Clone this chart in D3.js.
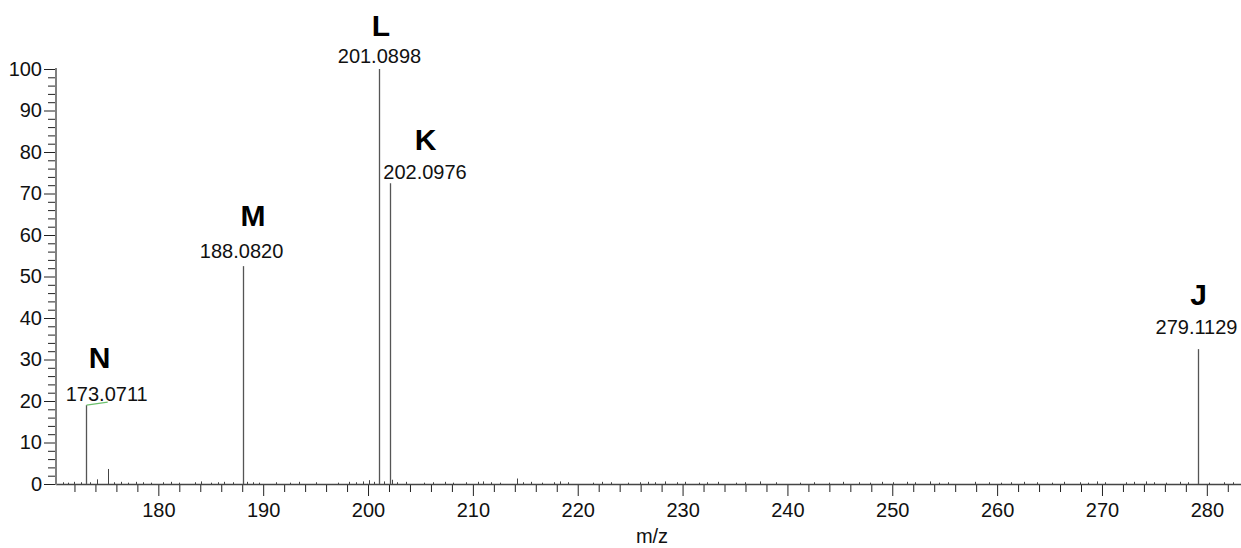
<!DOCTYPE html>
<html>
<head>
<meta charset="utf-8">
<script src="https://cdn.jsdelivr.net/npm/d3@7"></script>
<style>
  html, body { margin: 0; padding: 0; background: #fff; }
  svg { display: block; font-family: "Liberation Sans", Arial, sans-serif; }
</style>
</head>
<body>
<svg id="chart" width="1241" height="548"></svg>
<script>
// Labelled fragment peaks (m/z, relative intensity %)
const peakNames = ["N", "M", "L", "K", "J"];
const peakMz = [173.0711, 188.0820, 201.0898, 202.0976, 279.1129];
const peakIntensity = [19.0, 52.5, 100.0, 72.5, 32.5];

// Minor unlabelled signals and baseline noise
const minorMz = [
  170.9, 171.4, 172.0, 172.6, 173.5, 174.15, 175.2, 175.8, 176.4, 177.1, 177.9, 178.5, 179.3,
  180.4, 181.2, 182.0, 183.5, 184.1, 185.0, 185.7, 186.3, 187.1, 188.5, 189.0, 189.6,
  191.2, 192.6, 193.4, 195.0, 197.1, 198.2, 198.9, 199.5, 200.1, 200.6, 201.5, 202.3,
  202.8, 203.6, 205.3, 206.2, 207.3, 208.1, 209.3, 210.5, 211.0, 211.7, 212.6, 214.2,
  214.8, 215.5, 216.6, 217.7, 218.3, 219.1, 221.5, 222.3, 223.2, 224.8, 225.9, 226.7,
  227.4, 228.3, 229.5, 230.2, 231.6, 232.3, 233.4, 235.1, 236.0, 237.4, 238.9, 241.2,
  242.5, 244.0, 245.3, 246.8, 247.9, 249.0, 250.1, 251.4, 252.2, 253.6, 254.5, 255.3,
  257.9, 259.2, 260.4, 261.3, 262.6, 263.8, 265.2, 266.4, 267.9, 268.7, 269.5, 270.3,
  272.3, 273.1, 274.2, 275.0, 276.1, 277.4, 278.2, 280.2, 281.6, 282.5
];
const minorIntensity = [
  0.3, 0.2, 0.4, 0.3, 0.3, 1.0, 3.5, 0.3, 0.4, 0.2, 0.4, 0.3, 0.2,
  0.3, 0.4, 0.2, 0.3, 0.5, 0.2, 0.3, 0.4, 0.3, 0.4, 0.3, 0.2,
  0.3, 0.2, 0.4, 0.3, 0.2, 0.4, 0.3, 0.5, 0.8, 0.4, 0.5, 0.9,
  0.3, 0.4, 0.2, 0.3, 0.4, 0.2, 0.3, 0.4, 0.5, 0.3, 0.2, 1.2,
  0.3, 0.4, 0.2, 0.3, 0.5, 0.3, 0.2, 0.4, 0.3, 0.2, 0.3, 0.4,
  0.3, 0.5, 0.3, 0.4, 0.2, 0.3, 0.4, 0.2, 0.3, 0.5, 0.3, 0.2,
  0.3, 0.2, 0.4, 0.3, 0.2, 0.4, 0.3, 0.4, 0.3, 0.5, 0.2, 0.3,
  0.4, 0.3, 0.2, 0.3, 0.4, 0.3, 0.2, 0.4, 0.3, 0.2, 0.5, 0.3,
  0.3, 0.4, 0.5, 0.3, 0.2, 0.4, 0.3, 0.2, 0.3, 0.3
];

// Axis ticks
const xMajorTicks = [180, 190, 200, 210, 220, 230, 240, 250, 260, 270, 280];
const yMajorTicks = [0, 10, 20, 30, 40, 50, 60, 70, 80, 90, 100];
const xTitle = "m/z";

// Label placement around each peak top, in pixels
const labelPlacement = {
  N: { numDx: 21, numDy: -4.5, letDx: 14, letDy: -33, leader: true },
  M: { numDx: -1.5, numDy: -8, letDx: 10, letDy: -32.5 },
  L: { numDx: 0, numDy: -6.5, letDx: 1.5, letDy: -26.5 },
  K: { numDx: 35, numDy: -4, letDx: 35.5, letDy: -29 },
  J: { numDx: -1, numDy: -15.5, letDx: 1, letDy: -28.5 }
};

const svg = d3.select("#chart");
const plotLeft = 56, plotRight = 1241, plotBottom = 484, plotTop = 69;

const x = d3.scaleLinear().domain([170.24, 283.26]).range([plotLeft, plotRight]);
const y = d3.scaleLinear().domain([0, 100]).range([plotBottom, plotTop]);

const xMinor = d3.range(172, 284, 2).filter(v => !xMajorTicks.includes(v));
const yMinor = d3.range(0, 101, 2).filter(v => !yMajorTicks.includes(v));

// Minor ticks (unlabelled)
svg.append("g")
  .attr("transform", `translate(0,${plotBottom})`)
  .call(d3.axisBottom(x).tickValues(xMinor).tickSize(8).tickFormat(""))
  .call(g => g.select(".domain").remove())
  .selectAll("line").attr("stroke", "#222");

svg.append("g")
  .attr("transform", `translate(${plotLeft},0)`)
  .call(d3.axisLeft(y).tickValues(yMinor).tickSize(8).tickFormat(""))
  .call(g => g.select(".domain").remove())
  .selectAll("line").attr("stroke", "#222");

// Major ticks with labels
const xAxis = svg.append("g")
  .attr("transform", `translate(0,${plotBottom})`)
  .call(d3.axisBottom(x).tickValues(xMajorTicks).tickSize(12).tickPadding(7).tickFormat(d3.format("d")))
  .call(g => g.select(".domain").remove());
xAxis.selectAll("line").attr("stroke", "#222");
xAxis.selectAll("text").attr("font-size", 20).attr("fill", "#111")
  .attr("font-family", "'Liberation Sans', Arial, sans-serif");

const yAxis = svg.append("g")
  .attr("transform", `translate(${plotLeft},0)`)
  .call(d3.axisLeft(y).tickValues(yMajorTicks).tickSize(12).tickPadding(2).tickFormat(d3.format("d")))
  .call(g => g.select(".domain").remove());
yAxis.selectAll("line").attr("stroke", "#222");
yAxis.selectAll("text").attr("font-size", 20).attr("fill", "#111")
  .attr("font-family", "'Liberation Sans', Arial, sans-serif");

// Stick spectrum: noise and minor signals
svg.append("g").selectAll("line")
  .data(minorMz.map((m, i) => ({ m, v: minorIntensity[i] })))
  .join("line")
  .attr("x1", d => Math.round(x(d.m)) + 0.5)
  .attr("x2", d => Math.round(x(d.m)) + 0.5)
  .attr("y1", y(0))
  .attr("y2", d => y(d.v) - 0.5)
  .attr("stroke", "#444")
  .attr("stroke-width", 1);

// Axis lines
svg.append("line")
  .attr("x1", plotLeft).attr("x2", plotRight)
  .attr("y1", plotBottom + 0.5).attr("y2", plotBottom + 0.5)
  .attr("stroke", "#444").attr("stroke-width", 1.3);
svg.append("line")
  .attr("x1", plotLeft).attr("x2", plotLeft)
  .attr("y1", y(100) - 1).attr("y2", plotBottom + 1)
  .attr("stroke", "#808080").attr("stroke-width", 2);

// Labelled peaks
const peaks = peakNames.map((n, i) => ({ n, m: peakMz[i], v: peakIntensity[i] }));
svg.append("g").selectAll("line")
  .data(peaks)
  .join("line")
  .attr("x1", d => Math.round(x(d.m)) + 0.5)
  .attr("x2", d => Math.round(x(d.m)) + 0.5)
  .attr("y1", y(0))
  .attr("y2", d => y(d.v))
  .attr("stroke", "#555")
  .attr("stroke-width", 1.3);

// Leader line from a peak top to its offset label
svg.append("g").selectAll("line")
  .data(peaks.filter(d => labelPlacement[d.n].leader))
  .join("line")
  .attr("x1", d => Math.round(x(d.m)) + 0.5)
  .attr("y1", d => y(d.v))
  .attr("x2", d => x(d.m) + labelPlacement[d.n].numDx + 1)
  .attr("y2", d => y(d.v) + labelPlacement[d.n].numDy + 1.5)
  .attr("stroke", "#6cc06c")
  .attr("stroke-width", 1.2);

const labels = svg.append("g").selectAll("g")
  .data(peaks)
  .join("g")
  .attr("transform", d => `translate(${x(d.m)},${y(d.v)})`);

labels.append("text")
  .attr("x", d => labelPlacement[d.n].numDx)
  .attr("y", d => labelPlacement[d.n].numDy)
  .attr("text-anchor", "middle")
  .attr("font-size", 20)
  .attr("fill", "#111")
  .text(d => d.m.toFixed(4));

labels.append("text")
  .attr("x", d => labelPlacement[d.n].letDx)
  .attr("y", d => labelPlacement[d.n].numDy + labelPlacement[d.n].letDy)
  .attr("text-anchor", "middle")
  .attr("font-size", 30)
  .attr("font-weight", "bold")
  .attr("fill", "#000")
  .text(d => d.n);

// Axis title
svg.append("text")
  .attr("x", 652)
  .attr("y", 543)
  .attr("text-anchor", "middle")
  .attr("font-size", 20)
  .attr("fill", "#111")
  .text(xTitle);
</script>
</body>
</html>
